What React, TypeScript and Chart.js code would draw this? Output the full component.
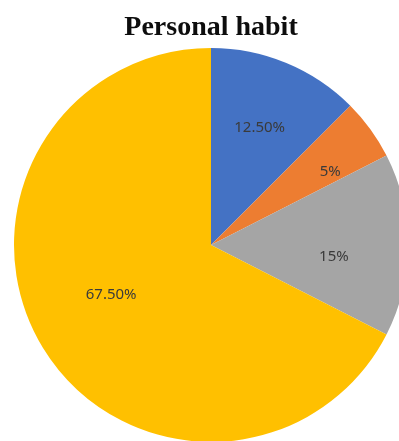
import React, { useEffect, useRef } from "react";
import { Chart, registerables } from "chart.js";

Chart.register(...registerables);

const categories = ["A", "B", "C", "D"];
const values = [12.5, 5, 15, 67.5];
const valueLabels = ["12.50%", "5%", "15%", "67.50%"];
const colors = ["#4472C4", "#ED7D31", "#A5A5A5", "#FFC000"];
const titleText = "Personal habit";

// label placement style: fraction of radius and angular nudge (degrees)
const labelRadiusFrac = [0.645, 0.71, 0.627, 0.567];
const labelAngleNudge = [0, 4.5, 5.6, 4.9];

const labelPlugin = {
  id: "sliceLabels",
  afterDatasetsDraw(chart: any) {
    const ctx = chart.ctx;
    const meta = chart.getDatasetMeta(0);
    ctx.save();
    ctx.font = "15px 'Noto Sans', sans-serif";
    ctx.fillStyle = "#3a3a3a";
    ctx.textAlign = "center";
    ctx.textBaseline = "middle";
    meta.data.forEach((arc: any, i: number) => {
      const p = arc.getProps(["x", "y", "startAngle", "endAngle", "outerRadius"], true);
      const mid = (p.startAngle + p.endAngle) / 2 + (labelAngleNudge[i] * Math.PI) / 180;
      const r = p.outerRadius * labelRadiusFrac[i];
      ctx.fillText(valueLabels[i], p.x + Math.cos(mid) * r, p.y + Math.sin(mid) * r);
    });
    ctx.restore();
  },
};

export default function App() {
  const ref = useRef<HTMLCanvasElement | null>(null);
  useEffect(() => {
    const prevMargin = document.body.style.margin;
    document.body.style.margin = "0";
    const chart = new Chart(ref.current!, {
      type: "pie",
      data: {
        labels: categories,
        datasets: [
          {
            data: values,
            backgroundColor: colors,
            borderWidth: 0,
            hoverOffset: 0,
            offset: 0,
          } as any,
        ],
      },
      options: {
        responsive: false,
        animation: false,
        radius: 197,
        layout: { padding: { left: 14, right: 14, top: 0, bottom: 0 } },
        plugins: {
          legend: { display: false },
          tooltip: { enabled: false },
          title: {
            display: true,
            text: titleText,
            color: "#0d0d0d",
            font: { family: "'Liberation Serif', serif", size: 28, weight: "bold", lineHeight: 1.2 },
            padding: { top: 11.2, bottom: 3.2 },
          },
        },
      } as any,
      plugins: [labelPlugin],
    });
    return () => {
      chart.destroy();
      document.body.style.margin = prevMargin;
    };
  }, []);
  return (
    <div style={{ position: "fixed", left: 0, top: 0, width: 399, height: 441, overflow: "hidden", background: "#fff" }}>
      <canvas ref={ref} width={422} height={442} style={{ width: 422, height: 442, display: "block" }} />
    </div>
  );
}
